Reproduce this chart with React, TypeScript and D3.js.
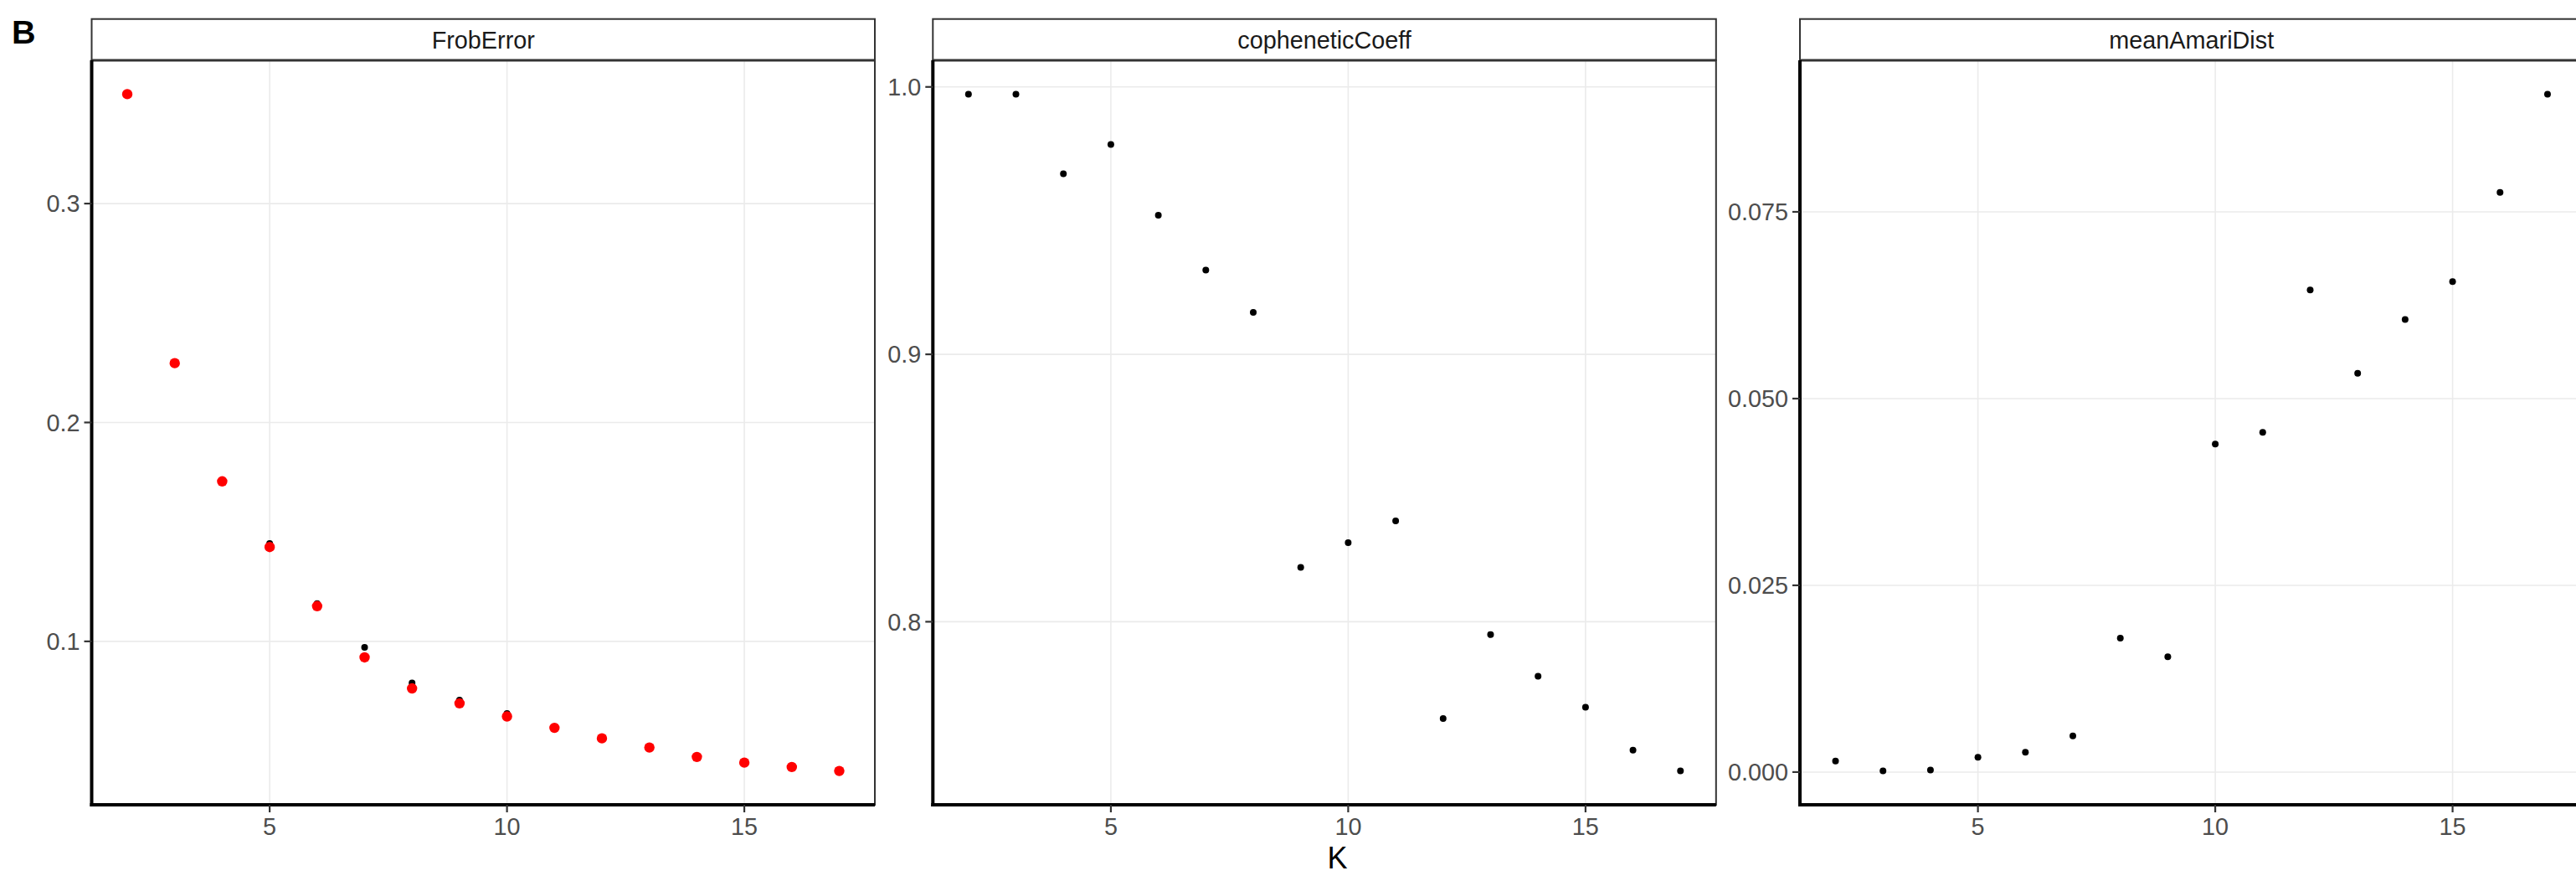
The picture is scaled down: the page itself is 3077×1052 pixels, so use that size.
import React from "react";
import * as d3 from "d3";

const K = [2, 3, 4, 5, 6, 7, 8, 9, 10, 11, 12, 13, 14, 15, 16, 17];

// FrobError panel: black = first series, red = second series (drawn on top)
const frobBlack = [0.350, 0.2275, 0.173, 0.1447, 0.1173, 0.0973, 0.081, 0.0732, 0.067, 0.0607, 0.0558, 0.0516, 0.0473, 0.0447, 0.0427, 0.0409];
const frobRed = [0.350, 0.2271, 0.1731, 0.1431, 0.1161, 0.0927, 0.0785, 0.0717, 0.0657, 0.0605, 0.0557, 0.0515, 0.0472, 0.0446, 0.0426, 0.0408];

const cophenetic = [0.9973, 0.9973, 0.9675, 0.9785, 0.952, 0.9315, 0.9157, 0.8203, 0.8296, 0.8377, 0.7638, 0.7952, 0.7796, 0.768, 0.752, 0.7442];

const amari = [0.00149, 0.00015, 0.00026, 0.00197, 0.00265, 0.00485, 0.01794, 0.01543, 0.0439, 0.04547, 0.06453, 0.0534, 0.0606, 0.06565, 0.0776, 0.09076];

const panelTitles = ["FrobError", "copheneticCoeff", "meanAmariDist"];
const xTicks = [5, 10, 15];
const frobTicks = [0.1, 0.2, 0.3];
const cophTicks = [0.8, 0.9, 1.0];
const amariTicks = [0, 0.025, 0.05, 0.075];

const W = 3077;
const H = 1052;
const panelTop = 72;
const panelBottom = 961;
const stripTop = 22.7;
const panelLefts = [109.5, 1114.3, 2150];
const panelWidth = 935.5;

const FONT = "'Liberation Sans', Arial, Helvetica, sans-serif";

function expandedDomain(vals: number[]): [number, number] {
  const [lo, hi] = d3.extent(vals) as [number, number];
  const pad = (hi - lo) * 0.05;
  return [lo - pad, hi + pad];
}

type Panel = {
  title: string;
  series: { values: number[]; color: string; r: number }[];
  ticks: number[];
  fmt: (v: number) => string;
};

const panels: Panel[] = [
  {
    title: panelTitles[0],
    series: [
      { values: frobBlack, color: "#000000", r: 4 },
      { values: frobRed, color: "#FF0000", r: 6.2 },
    ],
    ticks: frobTicks,
    fmt: d3.format(".1f"),
  },
  {
    title: panelTitles[1],
    series: [{ values: cophenetic, color: "#000000", r: 4 }],
    ticks: cophTicks,
    fmt: d3.format(".1f"),
  },
  {
    title: panelTitles[2],
    series: [{ values: amari, color: "#000000", r: 4 }],
    ticks: amariTicks,
    fmt: d3.format(".3f"),
  },
];

function PanelView({ p, left }: { p: Panel; left: number }) {
  const right = left + panelWidth;
  const x = d3.scaleLinear().domain(expandedDomain(K)).range([left, right]);
  const allVals = p.series.flatMap((s) => s.values);
  const y = d3.scaleLinear().domain(expandedDomain(allVals)).range([panelBottom, panelTop]);
  const cx = (left + right) / 2;
  return (
    <g>
      {/* strip */}
      <rect x={left} y={stripTop} width={panelWidth} height={panelTop - stripTop} fill="#FFFFFF" stroke="#333333" strokeWidth={2} />
      <text x={cx} y={58} textAnchor="middle" fontSize={28.8} fill="#1A1A1A" fontFamily={FONT}>
        {p.title}
      </text>
      {/* panel background */}
      <rect x={left} y={panelTop} width={panelWidth} height={panelBottom - panelTop} fill="#FFFFFF" />
      {/* grid */}
      {xTicks.map((t) => (
        <line key={"gx" + t} x1={x(t)} x2={x(t)} y1={panelTop} y2={panelBottom} stroke="#EBEBEB" strokeWidth={1.6} />
      ))}
      {p.ticks.map((t) => (
        <line key={"gy" + t} x1={left} x2={right} y1={y(t)} y2={y(t)} stroke="#EBEBEB" strokeWidth={1.6} />
      ))}
      {/* points */}
      {p.series.map((s, si) =>
        s.values.map((v, i) => (
          <circle key={si + "-" + i} cx={x(K[i])} cy={y(v)} r={s.r} fill={s.color} />
        ))
      )}
      {/* panel border */}
      <rect x={left} y={panelTop} width={panelWidth} height={panelBottom - panelTop} fill="none" stroke="#333333" strokeWidth={2} />
      <line x1={left} x2={right} y1={panelTop} y2={panelTop} stroke="#333333" strokeWidth={3} />
      {/* axis lines */}
      <line x1={left} x2={left} y1={panelTop} y2={panelBottom + 2} stroke="#000000" strokeWidth={4} />
      <line x1={left - 2} x2={right} y1={panelBottom} y2={panelBottom} stroke="#000000" strokeWidth={3.8} />
      {/* y ticks */}
      {p.ticks.map((t) => (
        <g key={"ty" + t}>
          <line x1={left - 9} x2={left} y1={y(t)} y2={y(t)} stroke="#333333" strokeWidth={2.2} />
          <text x={left - 14} y={y(t) + 10.3} textAnchor="end" fontSize={28.8} fill="#4D4D4D" fontFamily={FONT}>
            {p.fmt(t)}
          </text>
        </g>
      ))}
      {/* x ticks */}
      {xTicks.map((t) => (
        <g key={"tx" + t}>
          <line x1={x(t)} x2={x(t)} y1={panelBottom} y2={panelBottom + 9} stroke="#333333" strokeWidth={2.2} />
          <text x={x(t)} y={997} textAnchor="middle" fontSize={28.8} fill="#4D4D4D" fontFamily={FONT}>
            {t}
          </text>
        </g>
      ))}
    </g>
  );
}

export default function App() {
  const plotCenter = (panelLefts[0] + panelLefts[2] + panelWidth) / 2;
  return (
    <svg
      width={W}
      height={H}
      viewBox={`0 0 ${W} ${H}`}
      style={{ position: "absolute", left: 0, top: 0, background: "#FFFFFF" }}
    >
      <rect x={0} y={0} width={W} height={H} fill="#FFFFFF" />
      {panels.map((p, i) => (
        <PanelView key={p.title} p={p} left={panelLefts[i]} />
      ))}
      <text x={plotCenter} y={1037} textAnchor="middle" fontSize={36} fill="#000000" fontFamily={FONT}>
        K
      </text>
      <text x={14} y={51.7} fontSize={39.5} fontWeight="bold" fill="#000000" fontFamily={FONT}>
        B
      </text>
    </svg>
  );
}
